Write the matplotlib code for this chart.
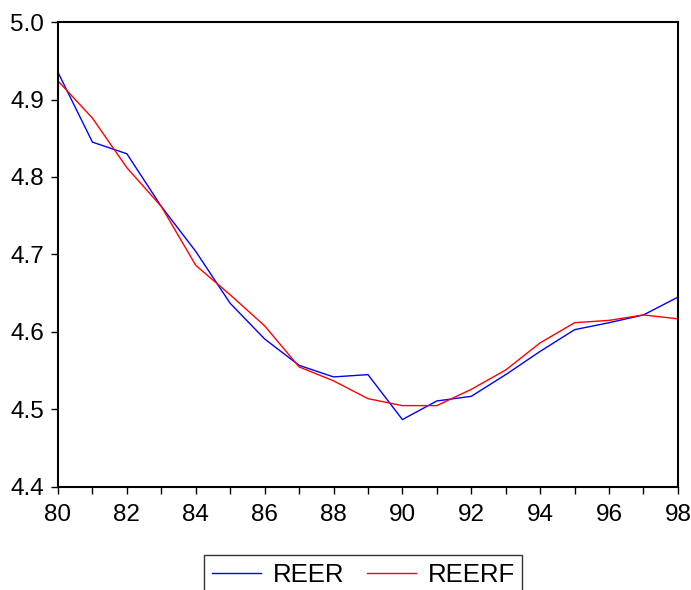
import matplotlib
matplotlib.use('Agg')
import matplotlib.pyplot as plt
from matplotlib.ticker import MultipleLocator, FormatStrFormatter

years = [80, 81, 82, 83, 84, 85, 86, 87, 88, 89, 90, 91, 92, 93, 94, 95, 96, 97, 98]
reer = [4.935, 4.845, 4.830, 4.762, 4.704, 4.637, 4.591, 4.557, 4.542, 4.545, 4.487,
        4.511, 4.517, 4.545, 4.575, 4.603, 4.612, 4.622, 4.645]
reerf = [4.924, 4.876, 4.812, 4.762, 4.686, 4.648, 4.608, 4.555, 4.537, 4.514, 4.505,
         4.505, 4.526, 4.551, 4.586, 4.612, 4.615, 4.622, 4.617]

plt.rcParams['font.family'] = ['Liberation Sans', 'DejaVu Sans']

fig = plt.figure(figsize=(6.91, 5.90), dpi=100)
ax = fig.add_axes([0.0839, 0.1746, 0.8972, 0.7881])

ax.plot(years, reer, color='#0000ff', lw=1.0, label='REER')
ax.plot(years, reerf, color='#ff0000', lw=1.0, label='REERF')

ax.set_xlim(80, 98)
ax.set_ylim(4.4, 5.0)
ax.xaxis.set_major_locator(MultipleLocator(2))
ax.xaxis.set_minor_locator(MultipleLocator(1))
ax.yaxis.set_major_locator(MultipleLocator(0.1))
ax.yaxis.set_major_formatter(FormatStrFormatter('%.1f'))

ax.tick_params(axis='both', which='both', direction='out', length=5, width=1,
               labelsize=17.5)
ax.tick_params(axis='x', pad=7)
ax.tick_params(axis='y', pad=5)
for s in ax.spines.values():
    s.set_linewidth(1.5)

leg = fig.legend(loc='upper center', bbox_to_anchor=(0.526, 0.0593), ncol=2,
                 fontsize=18.5, frameon=True, fancybox=False, edgecolor='black',
                 handlelength=1.9, columnspacing=0.9, borderpad=0.3,
                 handletextpad=0.45, borderaxespad=0)
leg.get_frame().set_linewidth(1.0)

fig.savefig('out.png', dpi=100)
